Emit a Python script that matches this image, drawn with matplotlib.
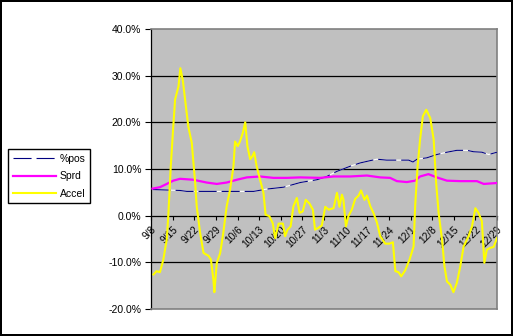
import matplotlib
matplotlib.use("Agg")
import matplotlib.pyplot as plt
from matplotlib.lines import Line2D

plt.rcParams['font.family'] = ['Liberation Sans', 'DejaVu Sans']
plt.rcParams['lines.scale_dashes'] = False

# --- data (x = days since 9/8, y = percent) ---
tick_labels = ['9/8', '9/15', '9/22', '9/29', '10/6', '10/13', '10/20', '10/27',
               '11/3', '11/10', '11/17', '11/24', '12/1', '12/8', '12/15', '12/22', '12/29']
tick_days = [7 * i for i in range(len(tick_labels))]

accel_day = [0.8, 1.8, 2.9, 4.0, 5.1, 5.6, 6.4, 7.2, 7.8, 8.9, 9.5, 10.3, 11.3, 12.1, 13.2,
             14.3, 14.8, 15.9, 17.0, 18.6, 19.4, 20.2, 20.5, 21.3, 22.4, 23.4, 24.5, 25.6,
             26.7, 27.2, 28.1, 28.8, 29.7, 30.5, 31.2, 32.1, 32.8, 33.4, 34.2, 35.3, 36.4,
             37.1, 38.3, 39.4, 40.2, 41.3, 42.7, 43.4, 44.2, 45.2, 46.1, 47.2, 48.1, 49.1,
             50.1, 51.3, 52.4, 53.1, 54.2, 55.3, 56.4, 57.5, 59.1, 60.2, 61.0, 61.8, 62.3,
             63.1, 63.9, 65.0, 66.1, 67.2, 68.0, 69.1, 69.9, 71.0, 72.0, 73.1, 74.2, 75.8,
             77.2, 78.3, 79.1, 80.1, 81.0, 82.3, 83.7, 85.0, 85.5, 86.3, 87.1, 88.0, 89.1,
             90.4, 91.5, 92.3, 93.1, 94.2, 95.0, 95.8, 96.9, 97.9, 99.0, 100.1, 101.2, 102.8,
             103.9, 105.0, 106.0, 107.1, 107.9, 108.7, 109.8, 110.9, 112.0]
accel_val = [-12.6, -11.9, -12.1, -9.4, -5.1, 0.0, 10.6, 19.0, 24.9, 27.7, 31.6, 29.0, 23.4,
             19.0, 15.6, 7.0, 2.0, -3.7, -8.0, -8.6, -9.4, -13.7, -16.4, -10.1, -8.0, -3.7,
             2.0, 5.6, 10.6, 15.9, 14.9, 15.9, 17.7, 20.0, 14.9, 12.1, 12.7, 13.6, 10.6, 7.7,
             4.9, 0.2, -0.1, -1.6, -4.8, -1.7, -1.7, -4.4, -3.0, -2.3, 2.0, 3.8, 0.6, 0.9,
             3.4, 2.6, 1.3, -3.0, -2.6, -2.1, 1.9, 1.3, 1.6, 4.9, 1.9, 4.5, 3.4, -2.3, -0.1,
             1.3, 3.6, 4.3, 5.4, 3.4, 4.3, 2.0, 0.6, -1.4, -4.4, -6.0, -6.0, -5.7, -11.9,
             -12.1, -13.0, -11.7, -9.4, -6.6, 2.0, 10.6, 16.3, 21.3, 22.7, 20.9, 16.3, 7.0,
             0.6, -5.1, -10.9, -14.1, -14.8, -16.4, -14.4, -10.9, -6.6, -4.4, -2.3, 1.6, 0.6,
             -1.2, -10.1, -7.3, -6.9, -6.7, -4.8]

pos_day = [0.5, 9.4, 11.6, 18.0, 26.7, 33.2, 37.5, 42.9, 48.3, 53.7, 56.9, 60.2, 64.5, 67.7,
           71.0, 73.1, 76.3, 80.7, 83.4, 84.8, 86.1, 89.3, 92.5, 95.8, 99.0, 102.3, 104.4,
           107.1, 109.3, 112.0]
pos_val = [5.6, 5.4, 5.2, 5.2, 5.2, 5.2, 5.7, 6.1, 7.1, 7.7, 8.4, 9.5, 10.6, 11.3, 11.8,
           12.1, 11.9, 11.9, 11.9, 11.5, 12.1, 12.4, 13.1, 13.6, 14.0, 14.0, 13.7, 13.6,
           13.1, 13.6]

sprd_day = [0.5, 2.9, 5.1, 7.2, 9.4, 13.7, 18.0, 21.3, 24.5, 27.8, 31.0, 35.3, 39.6, 44.0,
            48.3, 54.8, 59.1, 64.5, 69.9, 74.2, 77.4, 79.6, 82.8, 85.5, 87.1, 89.8, 92.5,
            95.8, 100.1, 105.5, 107.7, 112.0]
sprd_val = [5.8, 6.1, 6.8, 7.5, 7.9, 7.7, 7.1, 6.8, 7.1, 7.7, 8.2, 8.4, 8.1, 8.1, 8.2, 8.1,
            8.4, 8.4, 8.6, 8.2, 8.1, 7.4, 7.2, 7.5, 8.4, 8.9, 8.2, 7.5, 7.4, 7.4, 6.8, 7.0]

y_ticks = [-20, -10, 0, 10, 20, 30, 40]

# --- figure ---
W, H = 513, 336
fig = plt.figure(figsize=(W / 100, H / 100), dpi=100)
fig.patch.set_facecolor('white')
fig.patch.set_edgecolor('black')
fig.patch.set_linewidth(1.5)

ax = fig.add_axes([151 / W, 1 - 309 / H, (497 - 151) / W, (309 - 29) / H])
ax.set_facecolor('#C0C0C0')

for y in [-10, 10, 20, 30]:
    ax.axhline(y, color='black', lw=0.9, zorder=1)
ax.axhline(-20, color='#808080', lw=1.2, zorder=3, clip_on=False)

ax.plot(pos_day, pos_val, color='white', lw=0.8, zorder=4)
ax.plot(pos_day, pos_val, color='#000080', lw=0.8, dashes=(13, 3.6), zorder=4)
ax.plot(sprd_day, sprd_val, color='#FF00FF', lw=1.6, zorder=5)
ax.plot(accel_day, accel_val, color='#FFFF00', lw=1.5, zorder=6)

ax.set_xlim(0, 112)
ax.set_ylim(-20, 40)
ax.set_yticks(y_ticks)
ax.set_yticklabels([f'{v:.1f}%' for v in y_ticks], fontsize=7.5)
ax.tick_params(axis='y', direction='out', length=4, width=0.8, pad=3, colors='black')

ax.spines['bottom'].set_position(('data', 0))
ax.spines['bottom'].set_color('black')
ax.spines['bottom'].set_linewidth(0.9)
ax.spines['bottom'].set_zorder(2)
ax.spines['left'].set_color('black')
ax.spines['left'].set_linewidth(0.9)
for s in ['top', 'right']:
    ax.spines[s].set_color('#808080')
    ax.spines[s].set_linewidth(1.2)

ax.set_xticks(tick_days)
ax.set_xticklabels(tick_labels, fontsize=7.3, rotation=45, ha='right',
                   rotation_mode='anchor')
ax.tick_params(axis='x', direction='out', length=3, width=0.8, pad=3.5)

handles = [
    Line2D([], [], color='#000080', lw=0.8, dashes=(13, 3.6)),
    Line2D([], [], color='#FF00FF', lw=1.6),
    Line2D([], [], color='#FFFF00', lw=1.5),
]
leg = fig.legend(handles, ['%pos', 'Sprd', 'Accel'], loc='upper left',
                 bbox_to_anchor=(8 / W, 1 - 149 / H), fontsize=7.5, frameon=True,
                 fancybox=False, edgecolor='black', framealpha=1, handlelength=4.2,
                 handletextpad=0.3, borderpad=0.45, labelspacing=0.72, borderaxespad=0)
leg.get_frame().set_linewidth(1.0)

fig.savefig('out.png', dpi=100)
